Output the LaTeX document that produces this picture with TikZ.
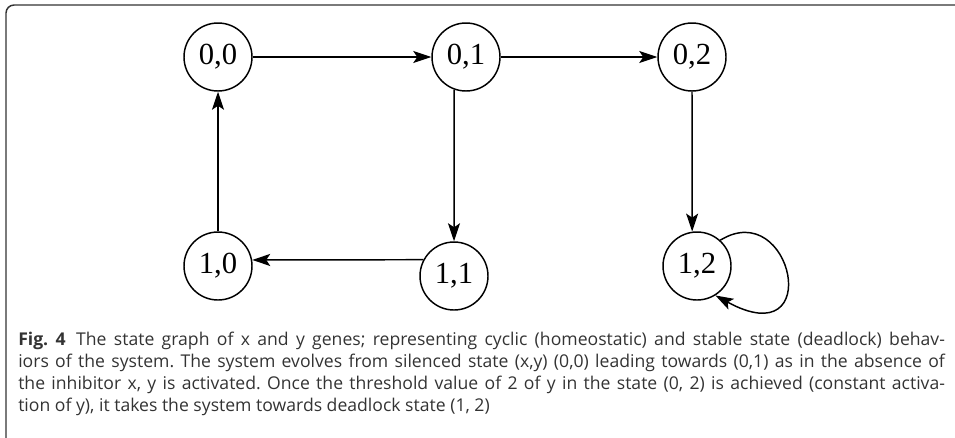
\documentclass[tikz,border=0pt]{standalone}
\usepackage{fontspec}
\setmainfont{Open Sans}
\newfontfamily\statefont{Liberation Serif}
\usetikzlibrary{arrows.meta}
\definecolor{captiongray}{HTML}{333333}
\tikzset{
  state/.style={circle,draw,line width=1.1pt,minimum size=51pt,inner sep=0pt,
    font=\statefont\fontsize{23}{23}\selectfont},
  trans/.style={->,line width=1.1pt},
}
\frenchspacing
\begin{document}
\begin{tikzpicture}[x=0.75pt,y=-0.75pt,>={Stealth[length=13.5pt,width=9pt,inset=3pt]},line join=round]
\clip (0,0) rectangle (955,437);
% frame
\draw[line width=1.1pt,color=captiongray,rounded corners=6pt] (956,5) -- (6,5) -- (6,452) -- (40,452);
% states
\node[state] (s00) at (218,57) {0,0};
\node[state] (s01) at (466,57) {0,1};
\node[state] (s02) at (692,57) {0,2};
\node[state] (s10) at (218,266) {1,0};
\node[state] (s11) at (454,276) {1,1};
\node[state] (s12) at (697,266) {1,2};
% transitions
\draw[trans] (s00) -- (s01);
\draw[trans] (s01) -- (s02);
\draw[trans] (s01.250) -- (s11.north);
\draw[trans] (s11.152) -- (s10.10);
\draw[trans] (s10) -- (s00);
\draw[trans] (s02.south) -- (s12.98);
\draw[trans] (s12.48) .. controls (792,196) and (826,356) .. (s12.-58);
% caption
\node[anchor=base west,text width=695pt,align=justify,inner sep=0pt,text=captiongray,
  font=\fontsize{13.2}{16.5}\selectfont] (cap) at (18,345)
  {\textbf{Fig.~4}\hspace{0.6em}The state graph of x and y genes; representing cyclic (homeostatic) and stable state (deadlock) behav-\linebreak
  iors of the system. The system evolves from silenced state (x,y) (0,0) leading towards (0,1) as in the absence of\linebreak
  the inhibitor x, y is activated. Once the threshold value of 2 of y in the state (0, 2) is achieved (constant activa-\linebreak
  tion of y), it takes the system towards deadlock state (1, 2)};
\end{tikzpicture}
\end{document}
